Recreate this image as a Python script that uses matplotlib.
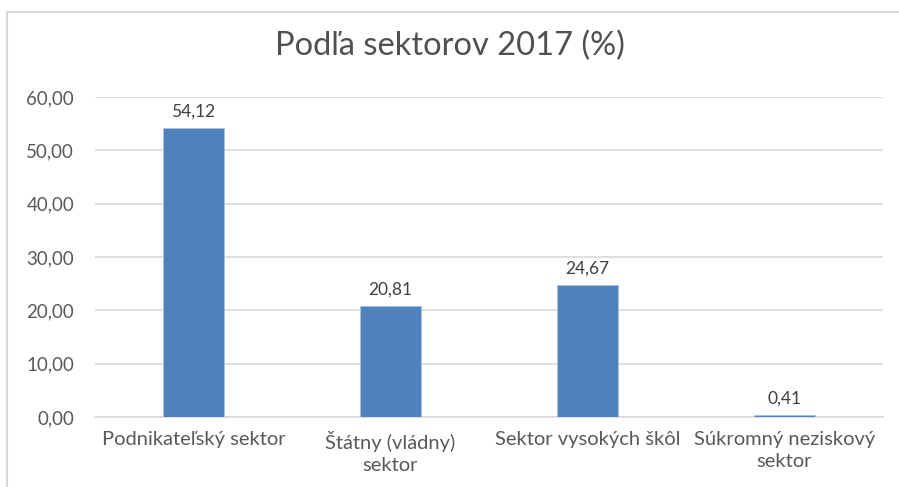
import matplotlib
matplotlib.use("Agg")
from matplotlib import pyplot as plt
from matplotlib.patches import Rectangle

categories = ["Podnikateľský sektor", "Štátny (vládny)\nsektor",
              "Sektor vysokých škôl", "Súkromný neziskový\nsektor"]
values = [54.12, 20.81, 24.67, 0.41]
yticks = [0, 10, 20, 30, 40, 50, 60]

plt.rcParams['font.family'] = ['Lato', 'DejaVu Sans']

fig = plt.figure(figsize=(8.99, 4.87), dpi=100)
# chart frame like the Excel chart area
fig.patches.append(Rectangle((7/899, -0.05), 1.0, 1 - 12/487 + 0.05,
                             transform=fig.transFigure, fill=False,
                             edgecolor='#d9d9d9', linewidth=1.5))

ax = fig.add_axes([95/899, 1 - 417/487, (883-95)/899, (417-97)/487])
x = range(len(categories))
bars = ax.bar(x, values, width=0.31, color='#4f81bd', edgecolor='#a9c1e0',
              linewidth=0.6, zorder=3)

for xi, v in zip(x, values):
    ax.annotate(f"{v:.2f}".replace('.', ','), (xi, v), xytext=(0, 6),
                textcoords='offset points', ha='center', va='bottom',
                fontsize=12.5, color='#404040')

ax.set_xlim(-0.5, 3.5)
ax.set_ylim(0, 60)
ax.set_yticks(yticks)
ax.set_yticklabels([f"{t:.2f}".replace('.', ',') for t in yticks])
ax.set_xticks(list(x))
ax.set_xticklabels(categories, linespacing=1.35, fontsize=14.5)
ax.tick_params(axis='both', length=0, colors='#595959')
ax.tick_params(axis='y', pad=15, labelsize=13.5)
ax.tick_params(axis='x', pad=10)
ax.grid(axis='y', color='#d9d9d9', linewidth=1.2, zorder=0)
for s in ['top', 'right', 'left']:
    ax.spines[s].set_visible(False)
ax.spines['bottom'].set_color('#d9d9d9')
ax.spines['bottom'].set_linewidth(1.2)

fig.text(0.5, 1 - 46/487, "Podľa sektorov 2017 (%)", ha='center', va='center',
         fontsize=23.5, color='#505050')

plt.savefig("out.png", dpi=100)
